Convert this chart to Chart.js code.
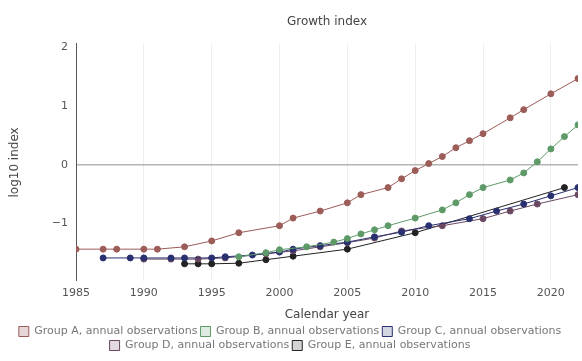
<!DOCTYPE html>
<html>
<head>
<meta charset="utf-8">
<script src="https://cdn.jsdelivr.net/npm/chart.js@4/dist/chart.umd.min.js"></script>
<style>
  html, body { margin: 0; padding: 0; background: #ffffff; }
  #wrap { width: 582px; height: 361px; }
</style>
</head>
<body>
<div id="wrap"><canvas id="chart"></canvas></div>
<script>
// Series values: year and log10 index for each group
const roseYears  = [1985, 1987, 1988, 1990, 1991, 1993, 1995, 1997, 2000, 2001, 2003, 2005, 2006, 2008, 2009, 2010, 2011, 2012, 2013, 2014, 2015, 2017, 2018, 2020, 2022];
const roseValues = [-1.44, -1.44, -1.44, -1.44, -1.44, -1.40, -1.30, -1.16, -1.04, -0.91, -0.79, -0.65, -0.51, -0.39, -0.24, -0.10, 0.02, 0.14, 0.29, 0.41, 0.53, 0.80, 0.94, 1.21, 1.47];

const greenYears  = [1997, 1999, 2000, 2002, 2004, 2005, 2006, 2007, 2008, 2010, 2012, 2013, 2014, 2015, 2017, 2018, 2019, 2020, 2021, 2022];
const greenValues = [-1.57, -1.50, -1.45, -1.40, -1.32, -1.26, -1.18, -1.11, -1.04, -0.91, -0.77, -0.65, -0.51, -0.39, -0.26, -0.14, 0.05, 0.27, 0.48, 0.68];

const navyYears  = [1987, 1989, 1990, 1992, 1993, 1995, 1996, 1998, 2000, 2001, 2003, 2005, 2007, 2009, 2011, 2014, 2016, 2018, 2020, 2022];
const navyValues = [-1.59, -1.59, -1.59, -1.59, -1.59, -1.59, -1.57, -1.54, -1.49, -1.44, -1.38, -1.32, -1.23, -1.15, -1.04, -0.92, -0.79, -0.67, -0.53, -0.39];

const plumYears  = [1990, 1992, 1994, 1996, 1999, 2001, 2003, 2005, 2007, 2009, 2012, 2015, 2017, 2019, 2022];
const plumValues = [-1.61, -1.61, -1.61, -1.59, -1.52, -1.47, -1.40, -1.33, -1.25, -1.13, -1.04, -0.92, -0.79, -0.67, -0.51];

const blackYears  = [1993, 1994, 1995, 1997, 1999, 2001, 2005, 2010, 2021];
const blackValues = [-1.69, -1.69, -1.69, -1.68, -1.62, -1.56, -1.44, -1.16, -0.39];

const seriesNames = [
  'Group A, annual observations',
  'Group B, annual observations',
  'Group C, annual observations',
  'Group D, annual observations',
  'Group E, annual observations'
];
const seriesColors = ['#9c5c58', '#5e9a68', '#283070', '#6a4862', '#222222'];
const seriesFills  = ['rgba(156,92,88,0.25)', 'rgba(94,154,104,0.2)', 'rgba(40,48,112,0.2)', 'rgba(106,72,98,0.2)', 'rgba(34,34,34,0.2)'];

const xTickStep = 5;
const yTickStep = 1;

function points(xs, ys) {
  return xs.map((x, i) => ({ x: x, y: ys[i] }));
}

const seriesData = [
  points(roseYears, roseValues),
  points(greenYears, greenValues),
  points(navyYears, navyValues),
  points(plumYears, plumValues),
  points(blackYears, blackValues)
];

const datasets = seriesData.map((d, i) => ({
  label: seriesNames[i],
  data: d,
  borderColor: seriesColors[i],
  backgroundColor: seriesFills[i],
  pointBackgroundColor: seriesColors[i],
  pointBorderColor: seriesColors[i],
  pointRadius: 3,
  pointHoverRadius: 3,
  borderWidth: 1,
  tension: 0,
  fill: false
}));

new Chart(document.getElementById('chart'), {
  type: 'line',
  data: { datasets: datasets },
  options: {
    responsive: true,
    maintainAspectRatio: false,
    animation: false,
    layout: { padding: { top: 2, right: 2, left: 0, bottom: 0 } },
    plugins: {
      title: {
        display: true,
        text: 'Growth index',
        color: '#444',
        fullSize: false,
        font: { family: 'DejaVu Sans', size: 12, weight: 'normal' },
        padding: { top: 13, bottom: 14 }
      },
      legend: {
        position: 'bottom',
        labels: {
          color: '#777',
          font: { family: 'DejaVu Sans', size: 11 },
          boxWidth: 10,
          boxHeight: 10,
          padding: 3
        }
      },
      tooltip: { enabled: false }
    },
    scales: {
      x: {
        type: 'linear',
        min: 1985,
        max: 2022,
        ticks: {
          stepSize: xTickStep,
          includeBounds: false,
          autoSkip: false,
          maxRotation: 0,
          color: '#555',
          font: { family: 'DejaVu Sans', size: 11 },
          padding: 5,
          callback: (v) => String(v)
        },
        grid: { color: '#efefef', drawTicks: false },
        border: { display: false },
        title: {
          display: true,
          text: 'Calendar year',
          color: '#444',
          font: { family: 'DejaVu Sans', size: 12 },
          padding: { top: 3, bottom: 1 }
        }
      },
      y: {
        type: 'linear',
        min: -1.99,
        max: 2.07,
        afterFit: (scale) => { scale.width = 76; },
        ticks: {
          stepSize: yTickStep,
          includeBounds: false,
          color: '#555',
          font: { family: 'DejaVu Sans', size: 11 },
          padding: 8,
          callback: (v) => (v < 0 ? '\u2212' + Math.abs(v) : String(v))
        },
        grid: {
          drawTicks: false,
          color: (ctx) => (ctx.tick && ctx.tick.value === 0 ? '#b4b4b4' : 'rgba(0,0,0,0)'),
          lineWidth: (ctx) => (ctx.tick && ctx.tick.value === 0 ? 1.5 : 0)
        },
        border: { display: true, color: '#555', width: 1 },
        title: {
          display: true,
          text: 'log10 index',
          color: '#444',
          font: { family: 'DejaVu Sans', size: 12 },
          padding: { top: 8, bottom: 4 }
        }
      }
    }
  }
});
</script>
</body>
</html>
